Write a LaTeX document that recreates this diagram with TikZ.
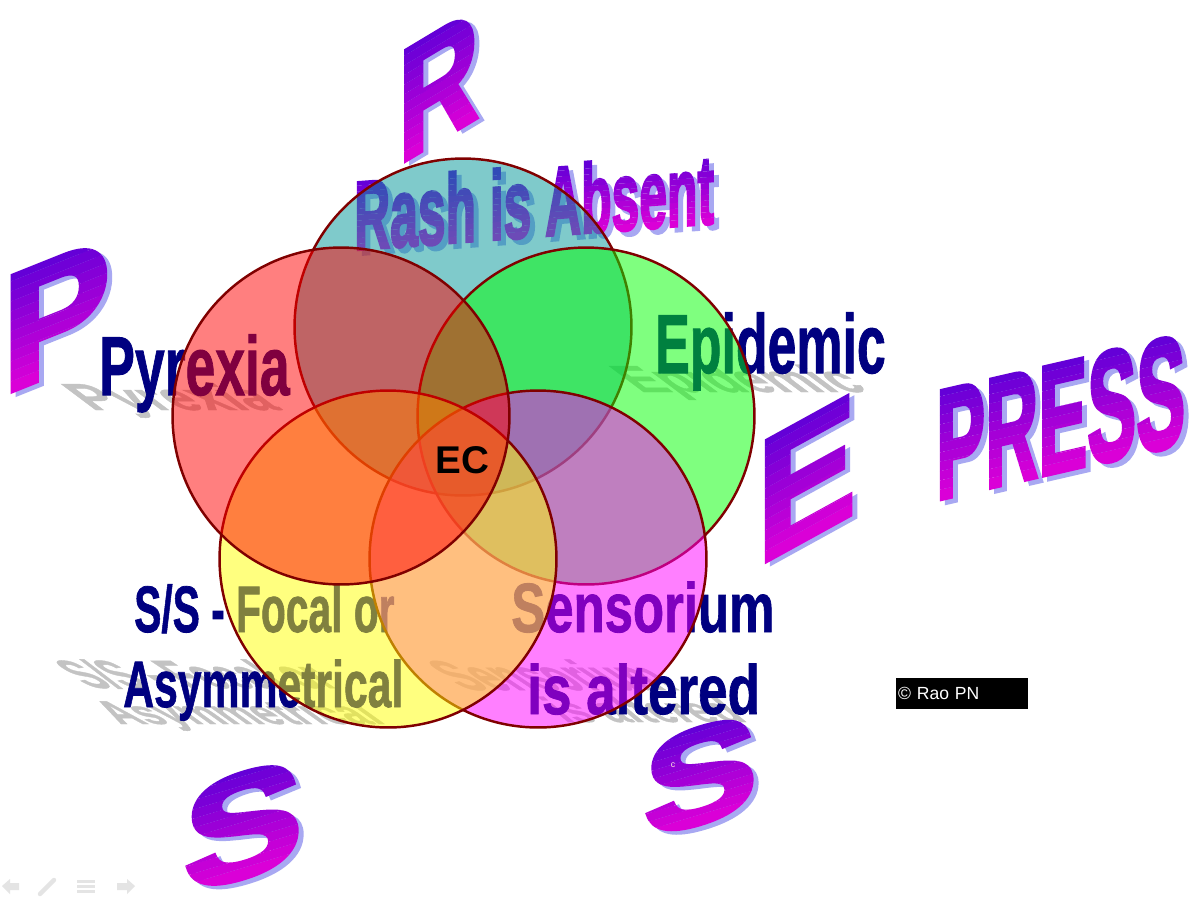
\documentclass[tikz,border=0pt]{standalone}
\usepackage{fontspec}
\setmainfont{Liberation Sans}
\newfontfamily\wafam[FakeBold=3]{Liberation Sans Bold}
\newfontfamily\lblfam[FakeBold=1.2]{Liberation Sans Bold}
\definecolor{navy}{RGB}{0,0,128}
\definecolor{waTop}{RGB}{100,0,215}
\definecolor{waBot}{RGB}{218,0,215}
\definecolor{waShadow}{RGB}{168,168,242}
\definecolor{ring}{RGB}{128,0,0}
\definecolor{cteal}{RGB}{0,150,152}
\definecolor{cred}{RGB}{255,0,0}
\definecolor{cgreen}{RGB}{0,255,0}
\definecolor{cyellow}{RGB}{255,255,0}
\definecolor{cmag}{RGB}{255,0,255}
\definecolor{reflcol}{RGB}{195,195,195}
\definecolor{navcol}{RGB}{228,228,228}
% word-art letters: #1 position, #2 slant, #3 font pt, #4 xscale, #5 cap height px, #6 text
\newcommand\wordart[6]{%
\begin{scope}[shift={(#1)}, x=0.02cm, y=0.02cm, yslant=#2,
   wafont/.style={anchor=base west, inner sep=0pt, transform shape, xscale=#4,
                  font=\fontsize{#3}{#3}\selectfont\wafam}]
 \node[wafont, text=waShadow] at (5,-5) {#6};
 \foreach \i in {0,...,11}{%
   \pgfmathsetmacro\ylo{(\i==0) ? -400 : #5*\i/12}%
   \pgfmathsetmacro\yhi{(\i==11) ? 3000 : #5*(\i+1)/12}%
   \pgfmathtruncatemacro\pc{100*\i/11}%
   \begin{scope}
     \clip (-300,\ylo) rectangle (3000,\yhi);
     \node[wafont, text=waTop!\pc!waBot] at (0,0) {#6};
   \end{scope}}
\end{scope}}
\tikzset{
  venn/.style={circle, draw=ring, line width=1.4pt, fill opacity=0.5, draw opacity=1,
               minimum size=6.74cm, inner sep=0pt},
  lbl/.style={anchor=base west, inner sep=0pt, text=navy},
  bigf/.style={font=\fontsize{47.6}{50}\selectfont\lblfam},
  midf/.style={font=\fontsize{37.4}{40}\selectfont\lblfam},
  senf/.style={font=\fontsize{39.7}{42}\selectfont\lblfam},
  refl/.style={anchor=base west, inner sep=0pt, text=reflcol},
  nav/.style={fill=navcol, draw=none}
}
\begin{document}
\begin{tikzpicture}[x=0.02cm, y=-0.02cm]
\useasboundingbox (0,0) rectangle (1192,903);
\fill[white] (0,0) rectangle (1192,903);

% reflections (grey perspective shadows)
\node[refl, bigf, cm={0.64,0,-0.6,0.45,(0,0)}] (pyrR) at (92,410) {Pyrexia};
\node[refl, bigf, cm={0.62,0,-0.6,0.45,(0,0)}] (epiR) at (640,392) {Epidemic};
\node[refl, midf, cm={0.6,0,-0.9,0.6,(0,0)}] (ssR) at (90,688) {S/S - Focal or};
\node[refl, midf, cm={0.62,0,-0.7,0.5,(0,0)}] (asyR) at (120,724) {Asymmetrical};
\node[refl, senf, cm={0.6,0,-0.9,0.6,(0,0)}] (senR) at (465,690) {Sensorium};
\node[refl, senf, cm={0.6,0,-0.6,0.5,(0,0)}] (altR) at (565,722) {is altered};

% labels (under the circles)
\node[lbl, bigf, xscale=0.64] (pyr) at (99,395) {Pyrexia};
\node[lbl, bigf, xscale=0.62] (epi) at (655,373) {Epidemic};
\node[lbl, midf, xscale=0.62] (ss) at (134,632) {S/S - Focal or};
\node[lbl, midf, xscale=0.65] (asy) at (123,707) {Asymmetrical};
\node[lbl, senf, xscale=0.73] (sen) at (511,632) {Sensorium};
\node[lbl, senf, xscale=0.76] (alt) at (527,714) {is altered};

% word-art title and letters
\wordart{354,250}{0.074}{55.6}{0.51}{70}{Rash is Absent}
\wordart{2,395}{0.4}{95}{0.97}{120}{P}
\wordart{398,165}{0.6}{90.7}{0.7}{115}{R}
\wordart{757,566}{0.55}{99}{0.85}{125}{E}
\wordart{936,500}{0.23}{89}{0.47}{112}{PRESS}
\wordart{183,895}{0.3}{85}{1.2}{110}{S}
\wordart{643,840}{0.3}{78}{1.25}{100}{S}

% the five circles
\node[venn, fill=cteal]   (rash) at (463,327) {};
\node[venn, fill=cgreen]  (epic) at (586,416) {};
\node[venn, fill=cmag]    (sens) at (538,559) {};
\node[venn, fill=cyellow] (focl) at (388,559) {};
\node[venn, fill=cred]    (pyrc) at (341,416) {};

\node[anchor=base west, inner sep=0pt, font=\fontsize{22}{22}\selectfont\bfseries] (ec) at (435,473) {EC};

% copyright
\node[anchor=north west, fill=black, text=white, inner sep=0pt, minimum width=2.64cm,
      minimum height=0.62cm, text width=2.64cm, align=left,
      font=\fontsize{10}{12}\selectfont] (copy) at (896,678) {\hspace{1pt}© Rao PN};
\node[inner sep=0pt, text=pink!50!white, font=\fontsize{5}{5}\selectfont] (cmark) at (673,765) {c};

% faint slide navigation icons
\fill[nav] (2,886) -- (10,879) -- (10,883) -- (19,883) -- (19,890) -- (10,890) -- (10,894) -- cycle;
\draw[navcol, line width=2.5pt, line cap=round] (40,894) -- (54,880);
\fill[nav] (77,880) rectangle (95,883);
\fill[nav] (77,885) rectangle (95,888);
\fill[nav] (77,890) rectangle (95,893);
\fill[nav] (135,886) -- (127,879) -- (127,883) -- (117,883) -- (117,890) -- (127,890) -- (127,894) -- cycle;
\end{tikzpicture}
\end{document}
